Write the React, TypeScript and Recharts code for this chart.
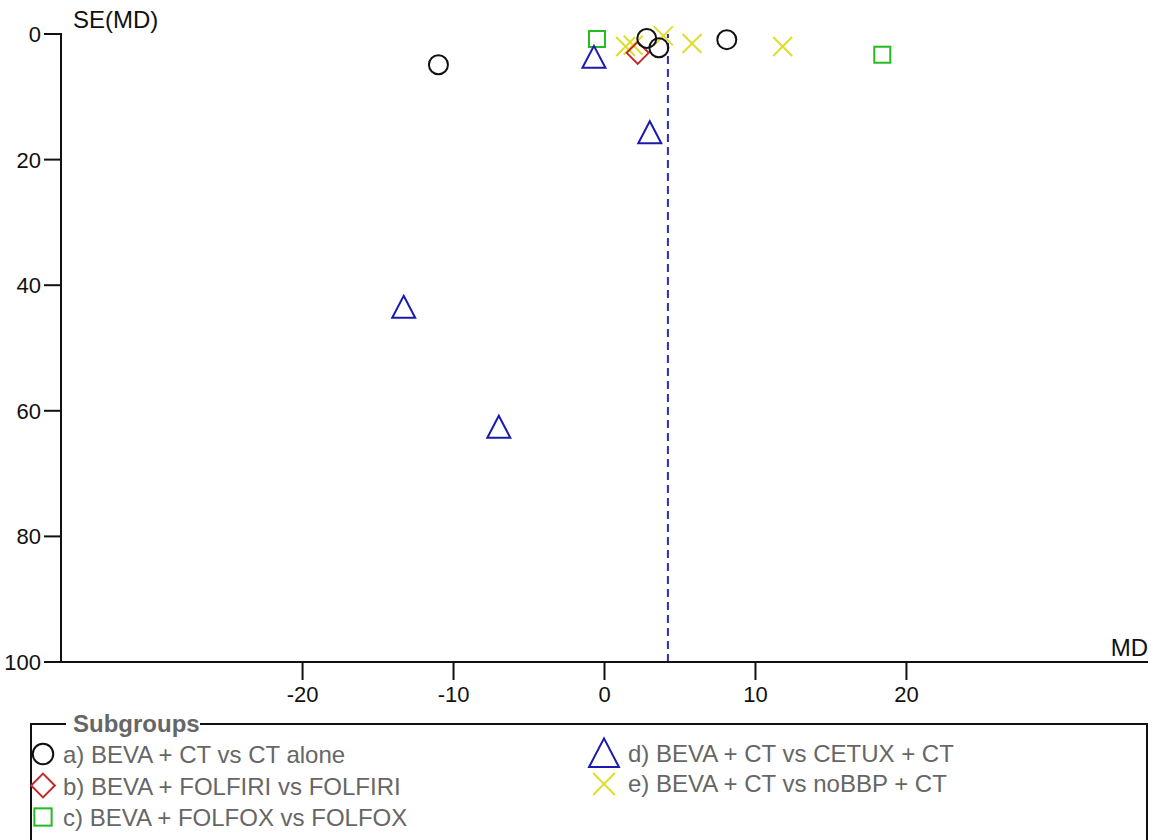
import React from "react";
import { ScatterChart, Scatter, XAxis, YAxis, ReferenceLine } from "recharts";

// subgroup data: [MD, SE(MD)]
const groupA = [
  { md: -11.0, se: 4.9 },
  { md: 2.8, se: 0.7 },
  { md: 3.6, se: 2.2 },
  { md: 8.1, se: 0.9 },
];
const groupB = [{ md: 2.2, se: 3.0 }];
const groupC = [
  { md: -0.5, se: 0.8 },
  { md: 18.4, se: 3.3 },
];
const groupD = [
  { md: -0.7, se: 3.8 },
  { md: 3.0, se: 15.8 },
  { md: -13.3, se: 43.6 },
  { md: -7.0, se: 62.7 },
];
const groupE = [
  { md: 1.4, se: 2.0 },
  { md: 1.9, se: 1.8 },
  { md: 3.9, se: 0.3 },
  { md: 5.8, se: 1.5 },
  { md: 11.8, se: 2.0 },
];
const pooledMD = 4.2;

const xTicks = [-20, -10, 0, 10, 20];
const yTicks = [0, 20, 40, 60, 80, 100];

const FONT = "Arial, 'Liberation Sans', sans-serif";

function Circle({ cx, cy, k = 1 }: any) {
  return <circle cx={cx} cy={cy} r={9.5 * k} fill="none" stroke="#111" strokeWidth={2} />;
}
function Diamond({ cx, cy, k = 1 }: any) {
  const s = 11 * k;
  return (
    <polygon
      points={`${cx},${cy - s} ${cx + s},${cy} ${cx},${cy + s} ${cx - s},${cy}`}
      fill="none"
      stroke="#c0282a"
      strokeWidth={2}
    />
  );
}
function Square({ cx, cy, k = 1 }: any) {
  const h = 8 * k;
  return <rect x={cx - h} y={cy - h} width={2 * h} height={2 * h} fill="none" stroke="#22bb22" strokeWidth={2} />;
}
function Triangle({ cx, cy, k = 1 }: any) {
  return (
    <polygon
      points={`${cx},${cy - 12 * k} ${cx + 11.5 * k},${cy + 10 * k} ${cx - 11.5 * k},${cy + 10 * k}`}
      fill="none"
      stroke="#1a1ab0"
      strokeWidth={2}
    />
  );
}
function Cross({ cx, cy, k = 1 }: any) {
  const s = 9.5 * k;
  return (
    <g stroke="#dede2a" strokeWidth={2}>
      <line x1={cx - s} y1={cy - s} x2={cx + s} y2={cy + s} />
      <line x1={cx - s} y1={cy + s} x2={cx + s} y2={cy - s} />
    </g>
  );
}

function XTick({ x, y, payload }: any) {
  return (
    <g>
      <line x1={x} y1={y - 9} x2={x} y2={y + 10} stroke="#111" strokeWidth={2} />
      <text x={x} y={y + 32} textAnchor="middle" fontSize={22} fontFamily={FONT} fill="#111">
        {payload.value}
      </text>
    </g>
  );
}
function YTick({ x, y, payload }: any) {
  return (
    <g>
      <line x1={x - 9} y1={y} x2={x + 9} y2={y} stroke="#111" strokeWidth={2} />
      <text x={x - 12} y={y + 8} textAnchor="end" fontSize={22} fontFamily={FONT} fill="#111">
        {payload.value}
      </text>
    </g>
  );
}

const legendLeft = [
  { label: "a) BEVA + CT vs CT alone", Shape: Circle },
  { label: "b) BEVA + FOLFIRI vs FOLFIRI", Shape: Diamond },
  { label: "c) BEVA + FOLFOX vs FOLFOX", Shape: Square },
];
const legendRight = [
  { label: "d) BEVA + CT vs CETUX + CT", Shape: Triangle, k: 1.3 },
  { label: "e) BEVA + CT vs noBBP + CT", Shape: Cross, k: 1.15 },
];

export default function App() {
  return (
    <div style={{ position: "absolute", left: 0, top: 0, width: 1158, height: 840, background: "#fff" }}>
      <ScatterChart width={1158} height={840} margin={{ top: 34, right: 10, bottom: 148, left: 0 }}>
        <XAxis
          type="number"
          dataKey="md"
          domain={[-36, 36]}
          ticks={xTicks}
          tick={<XTick />}
          tickLine={false}
          axisLine={{ stroke: "#111", strokeWidth: 2 }}
          height={30}
        />
        <YAxis
          type="number"
          dataKey="se"
          domain={[0, 100]}
          reversed
          ticks={yTicks}
          tick={<YTick />}
          tickLine={false}
          axisLine={{ stroke: "#111", strokeWidth: 2 }}
          width={61}
        />
        <ReferenceLine x={pooledMD} stroke="#2a2ac0" strokeWidth={2} strokeDasharray="8 5" />
        <Scatter data={groupE} shape={<Cross />} isAnimationActive={false} />
        <Scatter data={groupC} shape={<Square />} isAnimationActive={false} />
        <Scatter data={groupD} shape={<Triangle />} isAnimationActive={false} />
        <Scatter data={groupB} shape={<Diamond />} isAnimationActive={false} />
        <Scatter data={groupA} shape={<Circle />} isAnimationActive={false} />
        <text x={73} y={28} fontSize={24} fontFamily={FONT} fill="#111">
          SE(MD)
        </text>
        <text x={1148} y={656} textAnchor="end" fontSize={24} fontFamily={FONT} fill="#111">
          MD
        </text>
      </ScatterChart>
      <svg
        width={1158}
        height={130}
        style={{ position: "absolute", left: 0, top: 710 }}
        fontFamily={FONT}
      >
        <polyline points="66,14 31,14 31,135" fill="none" stroke="#111" strokeWidth={2} />
        <polyline points="200,14 1147,14 1147,135" fill="none" stroke="#111" strokeWidth={2} />
        <text x={73} y={22} fontSize={24} fontWeight="bold" fill="#666">
          Subgroups
        </text>
        {legendLeft.map((it, i) => (
          <g key={it.label}>
            <it.Shape cx={43} cy={44 + i * 31.5} k={1.08} />
            <text x={63} y={53 + i * 31.5} fontSize={24} fill="#666">
              {it.label}
            </text>
          </g>
        ))}
        {legendRight.map((it, i) => (
          <g key={it.label}>
            <it.Shape cx={604} cy={44 + i * 30} k={it.k} />
            <text x={628} y={52 + i * 30} fontSize={24} fill="#666">
              {it.label}
            </text>
          </g>
        ))}
      </svg>
    </div>
  );
}
